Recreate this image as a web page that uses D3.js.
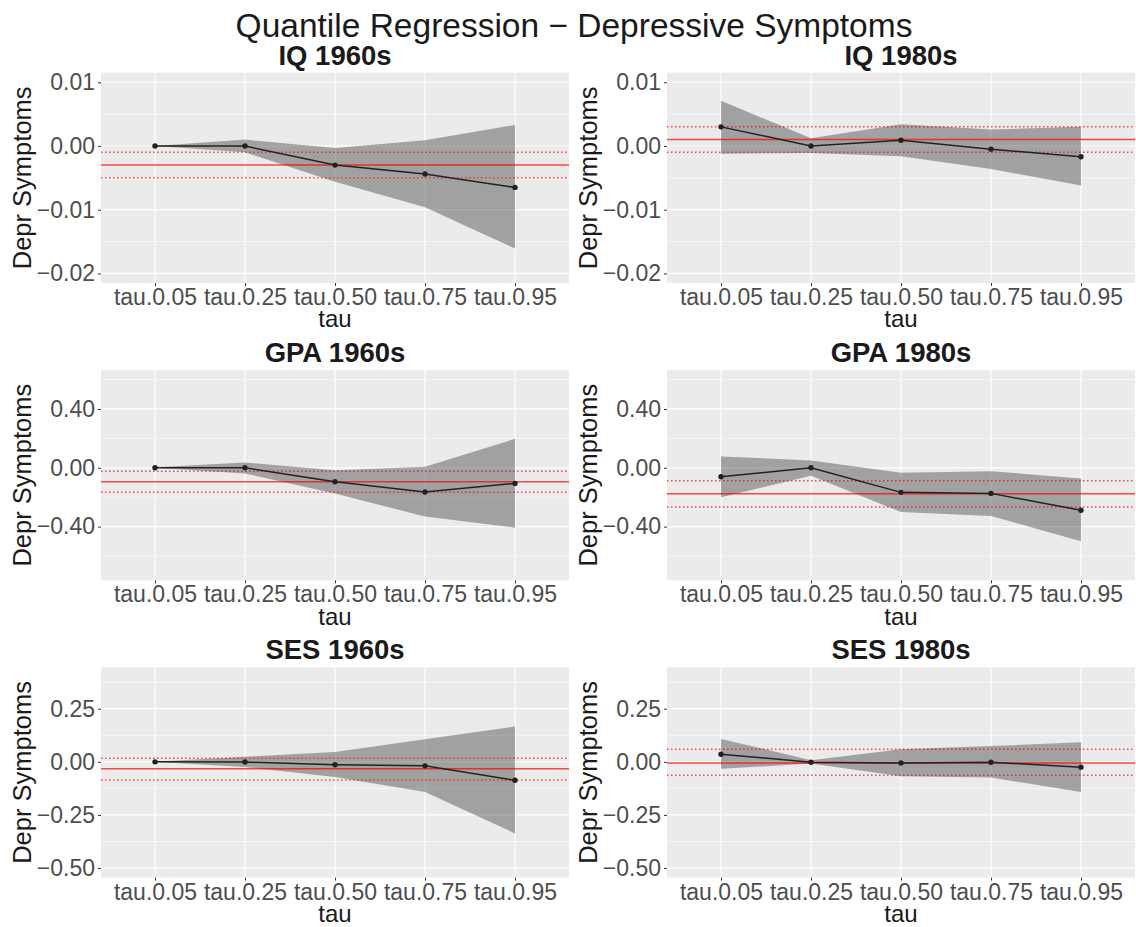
<!DOCTYPE html>
<html>
<head>
<meta charset="utf-8">
<script src="https://cdn.jsdelivr.net/npm/d3@7"></script>
<style>
  html, body { margin: 0; padding: 0; background: #ffffff; }
  svg { display: block; font-family: "Liberation Sans", Arial, Helvetica, sans-serif; }
</style>
</head>
<body>
<svg id="chart" width="1136" height="927"></svg>
<script>
// Quantile levels shared by every panel
const taus = ["tau.0.05", "tau.0.25", "tau.0.50", "tau.0.75", "tau.0.95"];

// IQ, 1960s cohort
const iq1960Est = [0.0000, 0.0000, -0.0030, -0.0044, -0.0065];
const iq1960Lo  = [0.0000, -0.0010, -0.0056, -0.0096, -0.0161];
const iq1960Hi  = [0.0000, 0.0010, -0.0003, 0.0009, 0.0033];
const iq1960Ols = [-0.0030, -0.0050, -0.0010]; // estimate, lower, upper

// IQ, 1980s cohort
const iq1980Est = [0.0030, 0.0000, 0.0009, -0.0005, -0.0017];
const iq1980Lo  = [-0.0012, -0.0011, -0.0016, -0.0036, -0.0062];
const iq1980Hi  = [0.0071, 0.0012, 0.0034, 0.0026, 0.0030];
const iq1980Ols = [0.0010, -0.0010, 0.0030];

// GPA, 1960s cohort
const gpa1960Est = [0.000, 0.000, -0.095, -0.165, -0.106];
const gpa1960Lo  = [0.000, -0.038, -0.174, -0.332, -0.407];
const gpa1960Hi  = [0.003, 0.036, -0.016, 0.007, 0.197];
const gpa1960Ols = [-0.095, -0.167, -0.023];

// GPA, 1980s cohort
const gpa1980Est = [-0.061, 0.000, -0.167, -0.174, -0.289];
const gpa1980Lo  = [-0.201, -0.054, -0.301, -0.328, -0.499];
const gpa1980Hi  = [0.077, 0.050, -0.034, -0.023, -0.072];
const gpa1980Ols = [-0.176, -0.267, -0.088];

// SES, 1960s cohort
const ses1960Est = [0.000, -0.001, -0.014, -0.019, -0.087];
const ses1960Lo  = [0.000, -0.024, -0.071, -0.142, -0.337];
const ses1960Hi  = [0.000, 0.024, 0.046, 0.106, 0.166];
const ses1960Ols = [-0.033, -0.085, 0.017];

// SES, 1980s cohort
const ses1980Est = [0.036, -0.002, -0.005, -0.002, -0.025];
const ses1980Lo  = [-0.033, -0.008, -0.068, -0.074, -0.142];
const ses1980Hi  = [0.108, 0.008, 0.059, 0.074, 0.092];
const ses1980Ols = [-0.005, -0.063, 0.059];

// Axis settings per row
const iqTicks = [0.01, 0.00, -0.01, -0.02];
const iqMinor = [0.005, -0.005, -0.015];
const iqLimits = [-0.02, 0.01];
const gpaTicks = [0.40, 0.00, -0.40];
const gpaMinor = [0.6, 0.2, -0.2, -0.6];
const gpaLimits = [-0.7, 0.6];
const sesTicks = [0.25, 0.00, -0.25, -0.50];
const sesMinor = [0.375, 0.125, -0.125, -0.375];
const sesLimits = [-0.5, 0.4];

const mainTitle = "Quantile Regression \u2212 Depressive Symptoms";
const yTitle = "Depr Symptoms";
const xTitle = "tau";

const panels = [
  { title: "IQ 1960s",  row: 0, col: 0, est: iq1960Est,  lo: iq1960Lo,  hi: iq1960Hi,  ols: iq1960Ols,  ticks: iqTicks,  minor: iqMinor,  lim: iqLimits },
  { title: "IQ 1980s",  row: 0, col: 1, est: iq1980Est,  lo: iq1980Lo,  hi: iq1980Hi,  ols: iq1980Ols,  ticks: iqTicks,  minor: iqMinor,  lim: iqLimits },
  { title: "GPA 1960s", row: 1, col: 0, est: gpa1960Est, lo: gpa1960Lo, hi: gpa1960Hi, ols: gpa1960Ols, ticks: gpaTicks, minor: gpaMinor, lim: gpaLimits },
  { title: "GPA 1980s", row: 1, col: 1, est: gpa1980Est, lo: gpa1980Lo, hi: gpa1980Hi, ols: gpa1980Ols, ticks: gpaTicks, minor: gpaMinor, lim: gpaLimits },
  { title: "SES 1960s", row: 2, col: 0, est: ses1960Est, lo: ses1960Lo, hi: ses1960Hi, ols: ses1960Ols, ticks: sesTicks, minor: sesMinor, lim: sesLimits },
  { title: "SES 1980s", row: 2, col: 1, est: ses1980Est, lo: ses1980Lo, hi: ses1980Hi, ols: ses1980Ols, ticks: sesTicks, minor: sesMinor, lim: sesLimits }
];

// Layout of the 3 x 2 grid of plotting areas
const colLeft = [101, 667];
const plotW = 468;
const rowTop = [72.7, 370, 667.3];
const plotH = 210.3;

const svg = d3.select("#chart");

svg.append("text")
  .attr("x", 574).attr("y", 37)
  .attr("text-anchor", "middle")
  .attr("font-size", 33.5)
  .attr("fill", "#1a1a1a")
  .text(mainTitle);

const fmt = d3.format(".2f");

panels.forEach(p => {
  const x0 = colLeft[p.col], y0 = rowTop[p.row];
  const g = svg.append("g").attr("transform", `translate(${x0},${y0})`);

  // discrete x scale with ggplot-style 0.6 padding
  const x = d3.scalePoint().domain(taus).range([0, plotW]).padding(0.6);
  const span = p.lim[1] - p.lim[0];
  const y = d3.scaleLinear()
    .domain([p.lim[0] - 0.05 * span, p.lim[1] + 0.05 * span])
    .range([plotH, 0]);

  // panel background
  g.append("rect").attr("width", plotW).attr("height", plotH).attr("fill", "#ebebeb");

  // grid
  g.selectAll(".minor").data(p.minor).join("line")
    .attr("x1", 0).attr("x2", plotW)
    .attr("y1", d => y(d)).attr("y2", d => y(d))
    .attr("stroke", "#ffffff").attr("stroke-width", 0.6);
  g.selectAll(".hmajor").data(p.ticks).join("line")
    .attr("x1", 0).attr("x2", plotW)
    .attr("y1", d => y(d)).attr("y2", d => y(d))
    .attr("stroke", "#ffffff").attr("stroke-width", 1.2);
  g.selectAll(".vmajor").data(taus).join("line")
    .attr("x1", d => x(d)).attr("x2", d => x(d))
    .attr("y1", 0).attr("y2", plotH)
    .attr("stroke", "#ffffff").attr("stroke-width", 1.2);

  // confidence ribbon
  const band = taus.map((t, i) => ({ t, lo: p.lo[i], hi: p.hi[i] }));
  g.append("path")
    .datum(band)
    .attr("d", d3.area().x(d => x(d.t)).y0(d => y(d.lo)).y1(d => y(d.hi)))
    .attr("fill", "#333333").attr("fill-opacity", 0.4);

  // OLS estimate with its interval
  g.append("line")
    .attr("x1", 0).attr("x2", plotW)
    .attr("y1", y(p.ols[0])).attr("y2", y(p.ols[0]))
    .attr("stroke", "#ff0000").attr("stroke-opacity", 0.7).attr("stroke-width", 1.5);
  g.selectAll(".olsci").data([p.ols[1], p.ols[2]]).join("line")
    .attr("x1", 0).attr("x2", plotW)
    .attr("y1", d => y(d)).attr("y2", d => y(d))
    .attr("stroke", "#ff0000").attr("stroke-opacity", 0.7).attr("stroke-width", 1.5)
    .attr("stroke-dasharray", "1.5,2.5");

  // quantile estimates
  const pts = taus.map((t, i) => ({ t, v: p.est[i] }));
  g.append("path")
    .datum(pts)
    .attr("d", d3.line().x(d => x(d.t)).y(d => y(d.v)))
    .attr("fill", "none").attr("stroke", "#222222").attr("stroke-width", 1.5);
  g.selectAll(".pt").data(pts).join("circle")
    .attr("cx", d => x(d.t)).attr("cy", d => y(d.v)).attr("r", 2.7)
    .attr("fill", "#222222");

  // axes
  const yAxis = d3.axisLeft(y).tickValues(p.ticks).tickFormat(fmt).tickSize(3).tickPadding(3);
  const ya = g.append("g").call(yAxis);
  ya.select(".domain").remove();
  ya.selectAll("line").attr("stroke", "#333333");
  ya.selectAll("text").attr("font-size", 23).attr("fill", "#4d4d4d")
    .attr("font-family", "Liberation Sans, Arial, sans-serif");

  const xAxis = d3.axisBottom(x).tickSize(3).tickPadding(4);
  const xa = g.append("g").attr("transform", `translate(0,${plotH})`).call(xAxis);
  xa.select(".domain").remove();
  xa.selectAll("line").attr("stroke", "#333333");
  xa.selectAll("text").attr("font-size", 23).attr("fill", "#4d4d4d")
    .attr("font-family", "Liberation Sans, Arial, sans-serif")
    .attr("dy", null).attr("y", 22);

  // titles
  g.append("text")
    .attr("x", plotW / 2).attr("y", -8)
    .attr("text-anchor", "middle")
    .attr("font-size", 27.5).attr("font-weight", "bold").attr("fill", "#1a1a1a")
    .text(p.title);
  g.append("text")
    .attr("x", plotW / 2).attr("y", plotH + 44.5)
    .attr("text-anchor", "middle")
    .attr("font-size", 24).attr("fill", "#1a1a1a")
    .text(xTitle);
  g.append("text")
    .attr("transform", `translate(-70,${plotH / 2}) rotate(-90)`)
    .attr("text-anchor", "middle")
    .attr("font-size", 25.5).attr("fill", "#1a1a1a")
    .text(yTitle);
});
</script>
</body>
</html>
